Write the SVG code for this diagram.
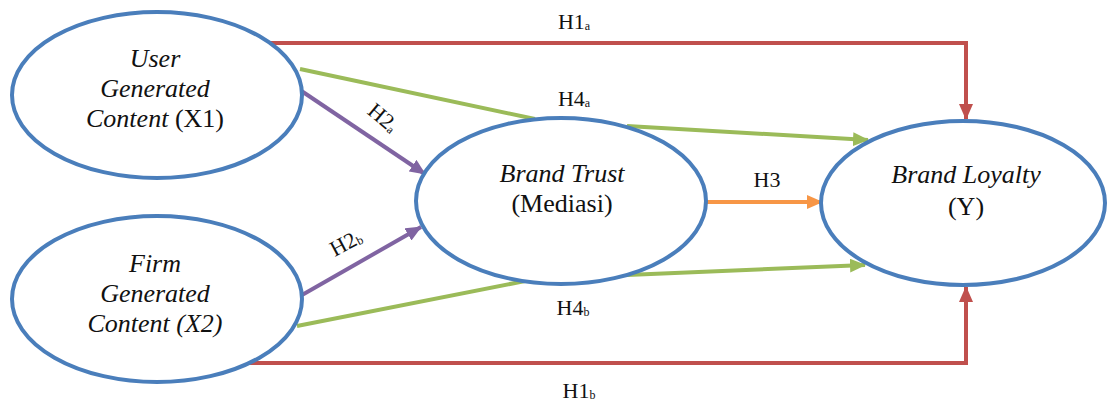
<svg xmlns="http://www.w3.org/2000/svg" width="1107" height="404" viewBox="0 0 1107 404">
<style>
.node{fill:#fff;stroke:#4A7EBB;stroke-width:4}
.t{font-family:"Liberation Serif",serif;font-size:26px;fill:#111;text-anchor:middle}
.i{font-style:italic}
.lab{font-family:"Liberation Serif",serif;font-size:22px;fill:#111;text-anchor:middle}
.sub{font-size:12px}
.red{stroke:#C0504D;stroke-width:4;fill:none}
.green{stroke:#9BBB59;stroke-width:4;fill:none}
.purple{stroke:#8064A2;stroke-width:4;fill:none}
.orange{stroke:#F79646;stroke-width:4;fill:none}
</style>
<defs>
<marker id="ar" markerUnits="userSpaceOnUse" markerWidth="16" markerHeight="14" refX="15" refY="7" orient="auto"><path d="M0,0 L16,7 L0,14 Z" fill="#C0504D"/></marker>
<marker id="ag" markerUnits="userSpaceOnUse" markerWidth="16" markerHeight="14" refX="15" refY="7" orient="auto"><path d="M0,0 L16,7 L0,14 Z" fill="#9BBB59"/></marker>
<marker id="ap" markerUnits="userSpaceOnUse" markerWidth="16" markerHeight="14" refX="15" refY="7" orient="auto"><path d="M0,0 L16,7 L0,14 Z" fill="#8064A2"/></marker>
<marker id="ao" markerUnits="userSpaceOnUse" markerWidth="16" markerHeight="14" refX="15" refY="7" orient="auto"><path d="M0,0 L16,7 L0,14 Z" fill="#F79646"/></marker>
</defs>
<g id="connectors">
<path class="red" d="M268,43 H966 V119" marker-end="url(#ar)"/>
<path class="red" d="M247,363 H966 V287" marker-end="url(#ar)"/>
<path class="green" d="M300,69 L535,119"/>
<path class="green" d="M627,126 L868,140" marker-end="url(#ag)"/>
<path class="green" d="M297,326 L530,280"/>
<path class="green" d="M627,275 L865,265" marker-end="url(#ag)"/>
<path class="purple" d="M300,90 L425,174" marker-end="url(#ap)"/>
<path class="purple" d="M302,295 L421,227" marker-end="url(#ap)"/>
<path class="orange" d="M707,202 L822,202" marker-end="url(#ao)"/>
</g>
<g id="labels">
<text class="lab" x="574" y="29">H1<tspan class="sub" dy="1">a</tspan></text>
<text class="lab" x="574" y="106">H4<tspan class="sub" dy="1">a</tspan></text>
<text class="lab" x="573" y="315">H4<tspan class="sub" dy="1">b</tspan></text>
<text class="lab" x="579" y="398">H1<tspan class="sub" dy="1">b</tspan></text>
<text class="lab" x="767" y="187">H3</text>
<text class="lab" transform="translate(383,118) rotate(40)" x="0" y="7">H2<tspan class="sub" dy="1">a</tspan></text>
<text class="lab" transform="translate(346,243) rotate(-28)" x="0" y="7">H2<tspan class="sub" dy="1">b</tspan></text>
</g>
<g id="node-x1">
<ellipse class="node" cx="157" cy="95" rx="145" ry="83"/>
<text class="t i" x="155" y="67">User</text>
<text class="t i" x="155" y="97">Generated</text>
<text class="t" x="155" y="127"><tspan class="i">Content</tspan> (X1)</text>
</g>
<g id="node-x2">
<ellipse class="node" cx="157" cy="299" rx="145" ry="83"/>
<text class="t i" x="155" y="272">Firm</text>
<text class="t i" x="155" y="302">Generated</text>
<text class="t i" x="155" y="332">Content (X2)</text>
</g>
<g id="node-trust">
<ellipse class="node" cx="561" cy="201" rx="145" ry="83"/>
<text class="t i" x="562" y="182">Brand Trust</text>
<text class="t" x="562" y="212">(Mediasi)</text>
</g>
<g id="node-loyalty">
<ellipse class="node" cx="963" cy="203" rx="142" ry="82"/>
<text class="t i" x="966" y="183">Brand Loyalty</text>
<text class="t" x="966" y="215">(Y)</text>
</g>
</svg>
